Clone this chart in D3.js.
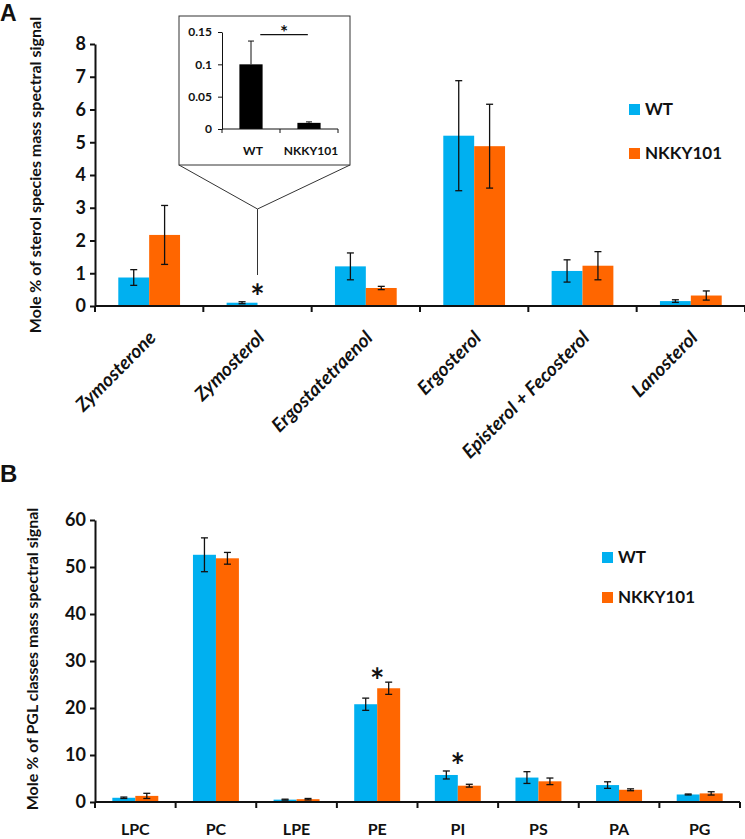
<!DOCTYPE html>
<html lang="en">
<head>
<meta charset="UTF-8" />
<title>Sterol and PGL composition</title>
<style>
  body { margin: 0; background: #fff; }
  text { font-family: Lato, "Open Sans", sans-serif; font-weight: bold; fill: #111; }
</style>
</head>
<body>
<script src="https://cdn.jsdelivr.net/npm/d3@7"></script>
<div id="app"></div>
<script>
// Panel A data: sterol species
const sterolNames = ["Zymosterone", "Zymosterol", "Ergostatetraenol", "Ergosterol", "Episterol + Fecosterol", "Lanosterol"];
const sterolWT = [0.87, 0.10, 1.21, 5.20, 1.07, 0.15];
const sterolWTErr = [0.24, 0.03, 0.41, 1.68, 0.34, 0.04];
const sterolMut = [2.17, 0.01, 0.55, 4.88, 1.23, 0.32];
const sterolMutErr = [0.90, 0.00, 0.05, 1.28, 0.43, 0.14];
const sterolTicks = [0, 1, 2, 3, 4, 5, 6, 7, 8];

// Inset: zymosterol only
const insetNames = ["WT", "NKKY101"];
const insetValues = [0.100, 0.0095];
const insetErr = [0.036, 0.0015];
const insetTicks = [0, 0.05, 0.1, 0.15];

// Panel B data: PGL classes
const pglNames = ["LPC", "PC", "LPE", "PE", "PI", "PS", "PA", "PG"];
const pglWT = [0.9, 52.6, 0.5, 20.8, 5.75, 5.2, 3.6, 1.6];
const pglWTErr = [0.15, 3.6, 0.1, 1.3, 0.85, 1.25, 0.7, 0.1];
const pglMut = [1.3, 51.85, 0.6, 24.2, 3.47, 4.4, 2.6, 1.83];
const pglMutErr = [0.55, 1.25, 0.15, 1.3, 0.3, 0.7, 0.2, 0.35];
const pglTicks = [0, 10, 20, 30, 40, 50, 60];

const series = ["WT", "NKKY101"];
const colors = { "WT": "#00B0F0", "NKKY101": "#FF6600" };

const W = 745, H = 839;
const svg = d3.select("#app").append("svg")
  .attr("width", W).attr("height", H)
  .style("display", "block");

// bar position inside a category, as a share of the band
const sub = d3.scaleBand().domain(series).range([0.215, 0.785]);

// draws grouped bars + error bars + axes for one panel
function drawPanel(names, wt, wtErr, mut, mutErr, x, y, ticks) {
  const g = svg.append("g");
  const rows = [];
  names.forEach((n, i) => {
    rows.push({ name: n, s: "WT", v: wt[i], e: wtErr[i] });
    rows.push({ name: n, s: "NKKY101", v: mut[i], e: mutErr[i] });
  });
  const bw = x.bandwidth();
  const bx = d => x(d.name) + bw * sub(d.s);
  const barW = bw * sub.bandwidth();

  g.selectAll("rect.bar").data(rows).enter().append("rect")
    .attr("class", "bar")
    .attr("x", bx)
    .attr("y", d => y(d.v))
    .attr("width", barW)
    .attr("height", d => y(0) - y(d.v))
    .attr("fill", d => colors[d.s]);

  const err = g.selectAll("g.err").data(rows.filter(d => d.e > 0)).enter().append("g")
    .attr("class", "err")
    .attr("stroke", "#111").attr("stroke-width", 1.3);
  err.append("line")
    .attr("x1", d => bx(d) + barW / 2).attr("x2", d => bx(d) + barW / 2)
    .attr("y1", d => y(d.v + d.e)).attr("y2", d => y(d.v - d.e));
  [1, -1].forEach(sign => {
    err.append("line")
      .attr("x1", d => bx(d) + barW / 2 - 3.5).attr("x2", d => bx(d) + barW / 2 + 3.5)
      .attr("y1", d => y(d.v + sign * d.e)).attr("y2", d => y(d.v + sign * d.e));
  });

  // y axis
  const ya = g.append("g")
    .attr("transform", "translate(" + x.range()[0] + ",0)")
    .call(d3.axisLeft(y).tickValues(ticks).tickSize(5).tickSizeOuter(0).tickPadding(4));
  ya.select(".domain").attr("stroke", "#111").attr("stroke-width", 2);
  ya.selectAll(".tick line").attr("stroke", "#111").attr("stroke-width", 2);
  ya.selectAll(".tick text").style("font-size", "18px").attr("fill", "#111");

  // x axis with ticks between categories
  const [x0, x1] = x.range();
  g.append("line")
    .attr("x1", x0).attr("x2", x1).attr("y1", y(0)).attr("y2", y(0))
    .attr("stroke", "#111").attr("stroke-width", 2);
  g.selectAll("line.xt").data(names.map(n => x(n)).concat([x1])).enter().append("line")
    .attr("class", "xt")
    .attr("x1", d => d).attr("x2", d => d)
    .attr("y1", y(0)).attr("y2", y(0) + 6)
    .attr("stroke", "#111").attr("stroke-width", 2);
  return g;
}

function legend(lx, ly, gap) {
  series.forEach((s, i) => {
    svg.append("rect")
      .attr("x", lx).attr("y", ly + i * gap - 11)
      .attr("width", 11).attr("height", 11)
      .attr("fill", colors[s]);
    svg.append("text")
      .attr("x", lx + 16).attr("y", ly + i * gap)
      .style("font-size", "17px")
      .text(s);
  });
}

function star(x, y, size) {
  svg.append("text")
    .attr("x", x).attr("y", y)
    .attr("text-anchor", "middle")
    .style("font-size", size + "px")
    .text("*");
}

//----- Panel A
const xA = d3.scaleBand().domain(sterolNames).range([95, 745]);
const yA = d3.scaleLinear().domain([0, 8]).range([306, 44]);
drawPanel(sterolNames, sterolWT, sterolWTErr, sterolMut, sterolMutErr, xA, yA, sterolTicks);

svg.selectAll("text.xlabA").data(sterolNames).enter().append("text")
  .attr("class", "xlabA")
  .attr("text-anchor", "end")
  .attr("transform", d => "translate(" + (xA(d) + xA.bandwidth() / 2 + 8) + "," + (yA(0) + 33) + ") rotate(-45)")
  .style("font-size", "19px")
  .style("font-style", "italic")
  .text(d => d);

svg.append("text")
  .attr("transform", "translate(41," + (yA(0) + yA(8)) / 2 + ") rotate(-90)")
  .attr("text-anchor", "middle")
  .style("font-size", "16px")
  .text("Mole % of sterol species mass spectral signal");

svg.append("text")
  .attr("x", 0).attr("y", 21)
  .style("font-family", "'Liberation Sans', Arial, sans-serif")
  .style("font-size", "23px")
  .text("A");

legend(629, 115, 44);
star(xA("Zymosterol") + xA.bandwidth() / 2, 309, 34);

// inset callout
const apexX = xA("Zymosterol") + xA.bandwidth() / 2;
svg.append("path")
  .attr("d", "M179,165L" + apexX + ",209L350,165M" + apexX + ",209V275")
  .attr("fill", "none").attr("stroke", "#333").attr("stroke-width", 1);
svg.append("rect")
  .attr("x", 179).attr("y", 16).attr("width", 171).attr("height", 149)
  .attr("fill", "#fff").attr("stroke", "#333").attr("stroke-width", 1);

const xI = d3.scaleBand().domain(insetNames).range([222, 338]);
const yI = d3.scaleLinear().domain([0, 0.15]).range([129, 32]);
const ib = xI.bandwidth();
const inset = svg.append("g");
inset.selectAll("rect").data(insetNames).enter().append("rect")
  .attr("x", d => xI(d) + ib * 0.3)
  .attr("y", (d, i) => yI(insetValues[i]))
  .attr("width", ib * 0.4)
  .attr("height", (d, i) => yI(0) - yI(insetValues[i]))
  .attr("fill", "#000");
const ie = inset.selectAll("g.ie").data(insetNames).enter().append("g")
  .attr("class", "ie").attr("stroke", "#111").attr("stroke-width", 1);
ie.append("line")
  .attr("x1", d => xI(d) + ib / 2).attr("x2", d => xI(d) + ib / 2)
  .attr("y1", (d, i) => yI(insetValues[i] + insetErr[i]))
  .attr("y2", (d, i) => yI(insetValues[i]));
ie.append("line")
  .attr("x1", d => xI(d) + ib / 2 - 3).attr("x2", d => xI(d) + ib / 2 + 3)
  .attr("y1", (d, i) => yI(insetValues[i] + insetErr[i]))
  .attr("y2", (d, i) => yI(insetValues[i] + insetErr[i]));

const iy = inset.append("g")
  .attr("transform", "translate(222,0)")
  .call(d3.axisLeft(yI).tickValues(insetTicks).tickFormat(d => String(d)).tickSize(4).tickSizeOuter(0).tickPadding(6));
iy.select(".domain").attr("stroke", "#111");
iy.selectAll(".tick line").attr("stroke", "#111");
iy.selectAll(".tick text").style("font-size", "12px").attr("fill", "#111");
inset.append("line")
  .attr("x1", 222).attr("x2", 338).attr("y1", yI(0)).attr("y2", yI(0))
  .attr("stroke", "#111");
inset.selectAll("line.it").data(insetNames.map(n => xI(n)).concat([338])).enter().append("line")
  .attr("class", "it")
  .attr("x1", d => d).attr("x2", d => d).attr("y1", yI(0)).attr("y2", yI(0) + 4)
  .attr("stroke", "#111");
inset.selectAll("text.il").data(insetNames).enter().append("text")
  .attr("class", "il")
  .attr("x", d => xI(d) + ib / 2 + 2).attr("y", 155)
  .attr("text-anchor", "middle")
  .style("font-size", "12px")
  .text(d => d);
inset.append("line")
  .attr("x1", xI("WT") + ib * 0.66).attr("x2", xI("NKKY101") + ib * 0.48)
  .attr("y1", yI(0.146)).attr("y2", yI(0.146))
  .attr("stroke", "#111").attr("stroke-width", 1.2);
star((xI("WT") + ib * 0.66 + xI("NKKY101") + ib * 0.48) / 2, 39, 19);

//----- Panel B
const xB = d3.scaleBand().domain(pglNames).range([95, 740]);
const yB = d3.scaleLinear().domain([0, 60]).range([802, 520]);
drawPanel(pglNames, pglWT, pglWTErr, pglMut, pglMutErr, xB, yB, pglTicks);

svg.selectAll("text.xlabB").data(pglNames).enter().append("text")
  .attr("class", "xlabB")
  .attr("x", d => xB(d) + xB.bandwidth() / 2)
  .attr("y", 835)
  .attr("text-anchor", "middle")
  .style("font-size", "16px")
  .text(d => d);

svg.append("text")
  .attr("transform", "translate(38," + 659 + ") rotate(-90)")
  .attr("text-anchor", "middle")
  .style("font-size", "16px")
  .text("Mole % of PGL classes mass spectral signal");

svg.append("text")
  .attr("x", 0).attr("y", 482)
  .style("font-family", "'Liberation Sans', Arial, sans-serif")
  .style("font-size", "24px")
  .text("B");

legend(602, 563, 40);
star(xB("PE") + xB.bandwidth() / 2, 693, 34);
star(xB("PI") + xB.bandwidth() / 2, 778, 34);
</script>
</body>
</html>
